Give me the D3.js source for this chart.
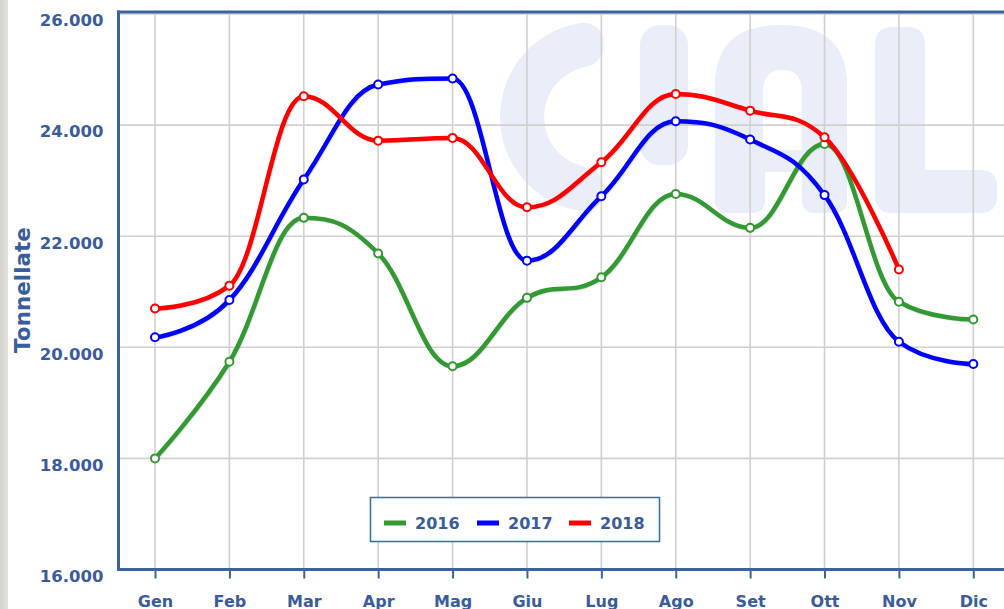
<!DOCTYPE html>
<html>
<head>
<meta charset="utf-8">
<script src="https://cdn.jsdelivr.net/npm/d3@7"></script>
<style>
  html, body { margin: 0; padding: 0; background: #fff; }
  svg { display: block; font-family: "DejaVu Sans", Verdana, sans-serif; }
</style>
</head>
<body>
<svg id="chart" width="1004" height="609"></svg>
<script>
// ---------- data ----------
const months = ["Gen","Feb","Mar","Apr","Mag","Giu","Lug","Ago","Set","Ott","Nov","Dic"];
const series2016 = [18000,19740,22330,21690,19660,20890,21260,22760,22150,23660,20820,20500];
const series2017 = [20180,20850,23020,24730,24840,21560,22720,24070,23740,22740,20100,19700];
const series2018 = [20700,21110,24520,23720,23770,22520,23330,24560,24260,23780,21400,null];
const seriesNames = ["2016","2017","2018"];
const seriesColors = ["#339933","#0000ff","#ff0000"];
const yTickValues = [16000,18000,20000,22000,24000,26000];
const yTickLabels = ["16.000","18.000","20.000","22.000","24.000","26.000"];
const yTitle = "Tonnellate";

const allSeries = [series2016, series2017, series2018];

// ---------- Highcharts-like spline curve ----------
function HCSpline(context){ this._context = context; }
HCSpline.prototype = {
  areaStart(){}, areaEnd(){},
  lineStart(){ this._pts = []; },
  point(x, y){ this._pts.push([+x, +y]); },
  lineEnd(){
    const p = this._pts, c = this._context, n = p.length;
    if (!n) return;
    const sm = 1.5, den = sm + 1;
    const ctrl = p.map((pt, i) => {
      if (i === 0 || i === n - 1) return null;
      const [lx, ly] = p[i-1], [x, y] = pt, [nx, ny] = p[i+1];
      let lcx = (sm*x + lx)/den, lcy = (sm*y + ly)/den;
      let rcx = (sm*x + nx)/den, rcy = (sm*y + ny)/den;
      if (rcx !== lcx) {
        const corr = ((rcy - lcy) * (rcx - x)) / (rcx - lcx) + y - rcy;
        lcy += corr; rcy += corr;
      }
      if (lcy > ly && lcy > y) { lcy = Math.max(ly, y); rcy = 2*y - lcy; }
      else if (lcy < ly && lcy < y) { lcy = Math.min(ly, y); rcy = 2*y - lcy; }
      if (rcy > ny && rcy > y) { rcy = Math.max(ny, y); lcy = 2*y - rcy; }
      else if (rcy < ny && rcy < y) { rcy = Math.min(ny, y); lcy = 2*y - rcy; }
      return {lcx, lcy, rcx, rcy};
    });
    c.moveTo(p[0][0], p[0][1]);
    for (let i = 1; i < n; i++) {
      const a = ctrl[i-1], b = ctrl[i];
      c.bezierCurveTo(a ? a.rcx : p[i-1][0], a ? a.rcy : p[i-1][1],
                      b ? b.lcx : p[i][0], b ? b.lcy : p[i][1],
                      p[i][0], p[i][1]);
    }
  }
};
const curveHC = ctx => new HCSpline(ctx);

// ---------- layout ----------
const W = 1004, H = 609;
const plotLeft = 118.5, plotRight = 1004;
const axisColor = "#3d62a0";
const textColor = "#3a5c9c";
const gridColor = "#d0d0d0";

const svg = d3.select("#chart");

// gray strip on the left edge
const defs = svg.append("defs");
const grad = defs.append("linearGradient").attr("id","strip").attr("x1","0").attr("x2","1");
grad.append("stop").attr("offset","0").attr("stop-color","#d4d2ce");
grad.append("stop").attr("offset","1").attr("stop-color","#e3e1dd");
svg.append("rect").attr("x",0).attr("y",0).attr("width",8).attr("height",H).attr("fill","url(#strip)");

const x = d3.scalePoint().domain(months).range([155, 973.3]);
const y = d3.scaleLinear().domain([16000, 26000]).range([569.5, 14]);

// watermark "CIAL"
const wm = svg.append("g").attr("fill","#e9eef8");
wm.append("path")
  .attr("transform","translate(595,117)")
  .attr("d", d3.arc().innerRadius(51).outerRadius(95).cornerRadius(20)
        .startAngle(Math.PI - 0.12).endAngle(2*Math.PI + 0.12)());
wm.append("rect").attr("x",640).attr("y",25).attr("width",48).attr("height",140).attr("rx",20);
wm.append("path").attr("fill-rule","evenodd")
  .attr("d","M715,200 L715,85 Q715,25 781,25 Q847,25 847,85 L847,200 Q847,213 834,213 L815,213 Q802,213 802,200 L802,172 L765,172 L765,200 Q765,213 752,213 L728,213 Q715,213 715,200 Z " +
            "M763,150 L763,92 Q763,70 782,70 Q802,70 802,92 L802,150 Z");
wm.append("path")
  .attr("d","M875,45 Q875,27 893,27 L907,27 Q925,27 925,45 L925,170 L980,170 Q997,170 997,187 L997,196 Q997,213 980,213 L892,213 Q875,213 875,196 Z");

// gridlines
svg.append("g").selectAll("line.h").data(yTickValues).join("line")
  .attr("x1", plotLeft).attr("x2", plotRight)
  .attr("y1", d => y(d)).attr("y2", d => y(d))
  .attr("stroke", gridColor).attr("stroke-width", 1.6);
svg.append("g").selectAll("line.v").data(months).join("line")
  .attr("x1", d => x(d)).attr("x2", d => x(d))
  .attr("y1", 12).attr("y2", y(16000))
  .attr("stroke", gridColor).attr("stroke-width", 1.6);

// axes
const xAxis = d3.axisBottom(x).tickSize(9).tickPadding(17);
const gx = svg.append("g").attr("transform", `translate(0,${y(16000)})`).call(xAxis);
gx.select(".domain").remove();
gx.selectAll(".tick line").attr("stroke", axisColor).attr("stroke-width", 2);
gx.selectAll(".tick text").attr("fill", textColor).attr("font-size", "16px")
  .attr("font-weight","bold").attr("font-family",'"DejaVu Sans", Verdana, sans-serif');

const yAxis = d3.axisLeft(y).tickValues(yTickValues)
  .tickFormat((d, i) => yTickLabels[i]).tickSize(0).tickPadding(15);
const gy = svg.append("g").attr("transform", `translate(${plotLeft},0)`).call(yAxis);
gy.select(".domain").remove();
gy.selectAll(".tick text").attr("fill", textColor).attr("font-size", "16.5px")
  .attr("font-weight","bold").attr("dy","0.72em")
  .attr("font-family",'"DejaVu Sans", Verdana, sans-serif');

// frame lines
svg.append("line").attr("x1", plotLeft).attr("x2", plotLeft).attr("y1", 10.5).attr("y2", y(16000)+1.5)
  .attr("stroke", axisColor).attr("stroke-width", 3);
svg.append("line").attr("x1", plotLeft-1.5).attr("x2", plotRight).attr("y1", 12).attr("y2", 12)
  .attr("stroke", axisColor).attr("stroke-width", 3);
svg.append("line").attr("x1", plotLeft-1.5).attr("x2", plotRight).attr("y1", y(16000)).attr("y2", y(16000))
  .attr("stroke", axisColor).attr("stroke-width", 3);

// y title
svg.append("text").attr("transform", `translate(29.5,290) rotate(-90)`)
  .attr("text-anchor","middle").attr("fill", textColor)
  .attr("font-size","21.5px").attr("font-weight","bold").text(yTitle);

// series
const line = d3.line()
  .defined(d => d != null)
  .x((d, i) => x(months[i]))
  .y(d => y(d))
  .curve(curveHC);

allSeries.forEach((vals, si) => {
  const g = svg.append("g");
  // shadow
  [[5,0.05],[3,0.10],[1,0.15]].forEach(([w,o]) => {
    g.append("path").attr("d", line(vals)).attr("fill","none")
      .attr("stroke","#000").attr("stroke-opacity", o).attr("stroke-width", w)
      .attr("transform","translate(1,1)").attr("stroke-linejoin","round").attr("stroke-linecap","round");
  });
  g.append("path").attr("d", line(vals)).attr("fill","none")
    .attr("stroke", seriesColors[si]).attr("stroke-width", 4.5)
    .attr("stroke-linejoin","round").attr("stroke-linecap","round");
  g.selectAll("circle").data(vals.map((v, i) => ({v, i})).filter(d => d.v != null)).join("circle")
    .attr("cx", d => x(months[d.i])).attr("cy", d => y(d.v)).attr("r", 4)
    .attr("fill","#fff").attr("stroke", seriesColors[si]).attr("stroke-width", 2);
});

// legend
const lg = svg.append("g");
lg.append("rect").attr("x", 370.5).attr("y", 497.5).attr("width", 289).attr("height", 44)
  .attr("fill","#fff").attr("stroke","#2e6ea0").attr("stroke-width",1.5);
const legendX = [384, 477, 569];
seriesNames.forEach((name, i) => {
  lg.append("line").attr("x1", legendX[i]).attr("x2", legendX[i] + 22)
    .attr("y1", 523).attr("y2", 523).attr("stroke", seriesColors[i]).attr("stroke-width", 5);
  lg.append("text").attr("x", legendX[i] + 31).attr("y", 529)
    .attr("fill", textColor).attr("font-size","16px").attr("font-weight","bold").text(name);
});
</script>
</body>
</html>
